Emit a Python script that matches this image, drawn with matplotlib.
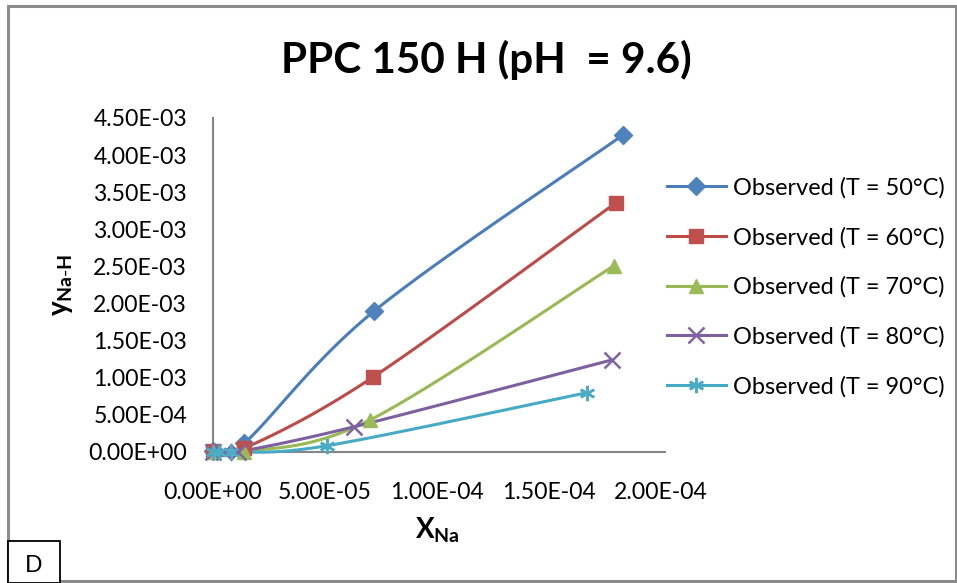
import numpy as np
import matplotlib
matplotlib.use("Agg")
import matplotlib.pyplot as plt
from matplotlib.patches import Rectangle
from matplotlib.lines import Line2D

plt.rcParams['font.family'] = ['Lato', 'DejaVu Sans']
plt.rcParams['mathtext.fontset'] = 'custom'
plt.rcParams['mathtext.bf'] = 'Lato:bold'
plt.rcParams['mathtext.rm'] = 'Lato'

# ---- data ----
title = "PPC 150 H (pH  = 9.6)"
series_labels = ["Observed (T = 50°C)", "Observed (T = 60°C)", "Observed (T = 70°C)",
                 "Observed (T = 80°C)", "Observed (T = 90°C)"]

x_50 = [0.0, 1.4e-5, 7.2e-5, 1.83e-4]
y_50 = [1.5e-5, 1.2e-4, 1.90e-3, 4.27e-3]

x_60 = [0.0, 1.4e-5, 7.15e-5, 1.80e-4]
y_60 = [2.0e-5, 5.0e-5, 1.01e-3, 3.36e-3]

x_70 = [0.0, 1.4e-5, 7.0e-5, 1.79e-4]
y_70 = [0.0, 0.0, 4.3e-4, 2.51e-3]

x_80 = [0.0, 5.0e-6, 1.1e-5, 6.3e-5, 1.78e-4]
y_80 = [0.0, 0.0, 0.0, 3.4e-4, 1.24e-3]

x_90 = [0.0, 2.5e-6, 8.0e-6, 5.1e-5, 1.67e-4]
y_90 = [0.0, 0.0, 0.0, 8.5e-5, 8.0e-4]

x_ticks = [0.0, 5e-5, 1e-4, 1.5e-4, 2e-4]
x_tick_labels = ["0.00E+00", "5.00E-05", "1.00E-04", "1.50E-04", "2.00E-04"]
y_ticks = [0.0, 5e-4, 1e-3, 1.5e-3, 2e-3, 2.5e-3, 3e-3, 3.5e-3, 4e-3, 4.5e-3]
y_tick_labels = ["0.00E+00", "5.00E-04", "1.00E-03", "1.50E-03", "2.00E-03",
                 "2.50E-03", "3.00E-03", "3.50E-03", "4.00E-03", "4.50E-03"]

line_colors = ["#4A7EBB", "#BE4B48", "#98B954", "#7D60A0", "#46AAC5"]
marker_colors = ["#4F81BD", "#C0504D", "#9BBB59", "#8064A2", "#4BACC6"]
markers = ["D", "s", "^", "x", "*"]

XMAX, YMAX = 2.018e-4, 4.5e-3


def smooth(xs, ys, n=40, t=1/6):
    """Bezier smoothing through the points (spreadsheet-style smoothed line)."""
    px = np.asarray(xs) / XMAX
    py = np.asarray(ys) / YMAX
    pts = np.column_stack([px, py])
    out = [pts[0]]
    for i in range(len(pts) - 1):
        p0 = pts[i - 1] if i > 0 else pts[i]
        p1, p2 = pts[i], pts[i + 1]
        p3 = pts[i + 2] if i + 2 < len(pts) else pts[i + 1]
        c1 = p1 + (p2 - p0) * t
        c2 = p2 - (p3 - p1) * t
        s = np.linspace(0, 1, n)[1:, None]
        seg = ((1 - s) ** 3) * p1 + 3 * ((1 - s) ** 2) * s * c1 + 3 * (1 - s) * s ** 2 * c2 + s ** 3 * p2
        out.extend(seg)
    out = np.array(out)
    return out[:, 0] * XMAX, out[:, 1] * YMAX


W, H = 957, 583
fig = plt.figure(figsize=(W / 100, H / 100), dpi=100)
renderer = fig.canvas.get_renderer()


def text_width(s, size, weight="normal"):
    t = fig.text(0, 0, s, fontsize=size, fontweight=weight)
    w = t.get_window_extent(renderer).width
    t.remove()
    return w


def fit_size(s, target_px, weight="normal"):
    return 20 * target_px / text_width(s, 20, weight)


tick_fs = fit_size("4.50E-03", 94)
title_fs = fit_size(title, 412, "bold")
legend_fs = fit_size(series_labels[0], 212)

# outer chart border and panel tag
fig.patches.append(Rectangle((8 / W, 2 / H), (W - 9) / W, (H - 8) / H, transform=fig.transFigure,
                             fill=False, edgecolor="#8C8C8C", linewidth=2.2))
fig.patches.append(Rectangle((8 / W, 0), 52 / W, 42 / H, transform=fig.transFigure,
                             facecolor="white", edgecolor="black", linewidth=1.3, zorder=5))
fig.text(34 / W, 17 / H, "D", ha="center", va="center", fontsize=tick_fs, zorder=6)

ax = fig.add_axes([213 / W, 1 - 452 / H, (665 - 213) / W, (452 - 118) / H])

all_x = [x_50, x_60, x_70, x_80, x_90]
all_y = [y_50, y_60, y_70, y_80, y_90]
handles = []
for xs, ys, lc, mc, mk, lab in zip(all_x, all_y, line_colors, marker_colors, markers, series_labels):
    sx, sy = smooth(xs, ys)
    ax.plot(sx, sy, color=lc, lw=2.2, clip_on=False, zorder=3)
    ms = {"D": 9, "s": 10, "^": 10.5, "x": 11, "*": 11}[mk]
    if mk == "x":
        kw = dict(marker="x", ms=ms, mew=1.8, mec=mc)
    elif mk == "*":
        kw = dict(marker=(6, 2, 0), ms=ms, mew=1.8, mec=mc)
    else:
        kw = dict(marker=mk, ms=ms, mfc=mc, mec=mc)
    ax.plot(xs, ys, linestyle="none", clip_on=False, zorder=4, **kw)
    handles.append(Line2D([], [], color=lc, lw=2.2, **kw))

ax.set_xlim(0, XMAX)
ax.set_ylim(0, YMAX)
ax.set_xticks(x_ticks)
ax.set_xticklabels(x_tick_labels)
ax.set_yticks(y_ticks)
ax.set_yticklabels(y_tick_labels)
ax.tick_params(axis="both", length=0, labelsize=tick_fs, colors="black")
for side in ("top", "right"):
    ax.spines[side].set_visible(False)
for side in ("left", "bottom"):
    ax.spines[side].set_color("#868686")
    ax.spines[side].set_linewidth(1.5)

# label pads: y labels end 26 px left of the axis, x labels start 30 px below it
ax.tick_params(axis="y", pad=0)
ax.tick_params(axis="x", pad=0)
fig.canvas.draw()
ax_bb = ax.get_window_extent(renderer)
yl = ax.get_yticklabels()[-1].get_window_extent(renderer)
xl = ax.get_xticklabels()[0].get_window_extent(renderer)
px_to_pt = 72 / fig.dpi
ax.tick_params(axis="y", pad=max(0, 26 - (ax_bb.x0 - yl.x1)) * px_to_pt)
ax.tick_params(axis="x", pad=max(0, 30 - (ax_bb.y0 - xl.y1)) * px_to_pt)

fig.text(486 / W, 1 - 60 / H, title, ha="center", va="center", fontsize=title_fs, fontweight="bold")
fig.text(437 / W, 1 - 530 / H, r"$\mathbf{X}_{\mathbf{Na}}$", ha="center", va="center", fontsize=20)
fig.text(62 / W, 1 - 285 / H, r"$\mathbf{y}_{\mathbf{Na\text{-}H}}$", ha="center", va="center",
         fontsize=20, rotation=90)

leg = fig.legend(handles, series_labels, loc="upper left", bbox_to_anchor=(667 / W, 1 - 177 / H),
                 frameon=False, fontsize=legend_fs, handlelength=2.5, handletextpad=0.3,
                 labelspacing=1.2, borderpad=0, borderaxespad=0)

fig.savefig("out.png", dpi=100)
